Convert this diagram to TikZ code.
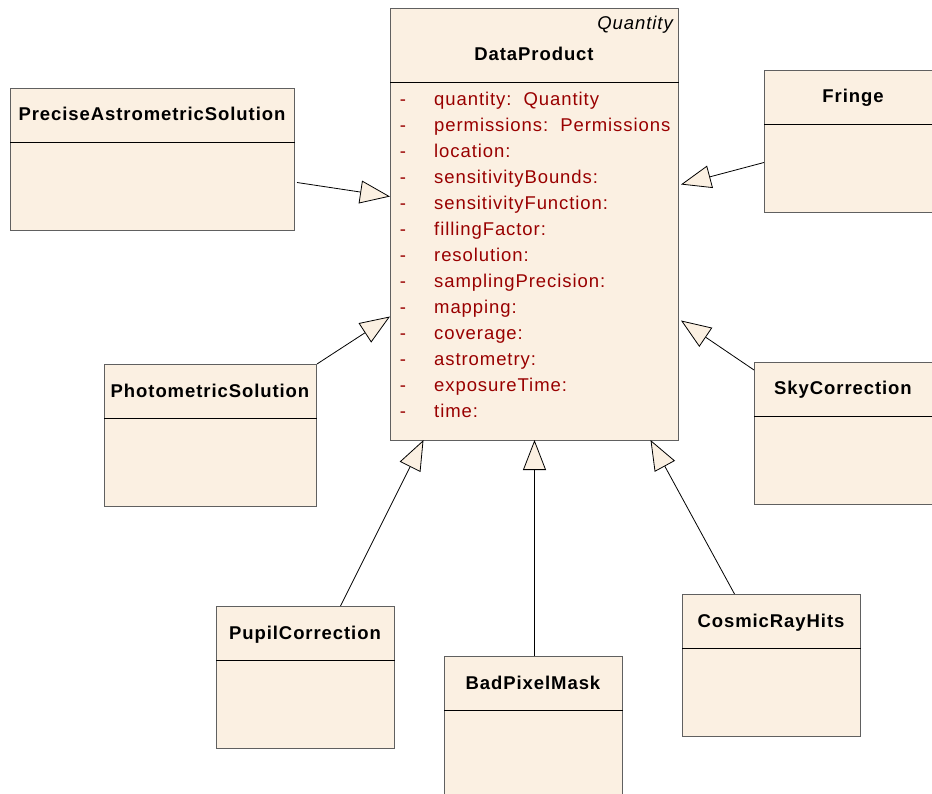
\documentclass[tikz,border=0pt]{standalone}
\usepackage{fontspec}
\setmainfont{Liberation Sans}[LetterSpace=5]
\usetikzlibrary{arrows.meta}
\definecolor{boxfill}{HTML}{FBF0E2}
\definecolor{attrred}{HTML}{990000}
\definecolor{boxline}{HTML}{606060}
\begin{document}
\begin{tikzpicture}[x=1pt,y=-1pt,
  cls/.style={draw=boxline, fill=boxfill, line width=1pt, anchor=north west, inner sep=0pt, minimum width=178pt, minimum height=142pt},
  ttl/.style={font=\fontsize{18.5}{20}\selectfont\bfseries, anchor=base, inner sep=0pt},
  stereo/.style={font=\fontsize{18.5}{20}\selectfont\itshape, anchor=base east, inner sep=0pt},
  attr/.style={font=\fontsize{18.5}{20}\selectfont, text=attrred, anchor=base west, inner sep=0pt},
  dashmark/.style={font=\fontsize{18.5}{20}\selectfont, text=attrred, anchor=base, inner sep=0pt},
  sepline/.style={draw=black, line width=0.9pt},
  gen/.style={draw=black, line width=0.8pt, -{Triangle[length=30pt,width=23pt,fill=boxfill]}}]
\clip (0,0) rectangle (932,794);
\useasboundingbox (0,0) rectangle (932,794);

% boxes
\node[cls, minimum width=288pt, minimum height=432pt] (dp) at (390,8) {};
\node[cls, minimum width=284pt] (pas) at (10,88) {};
\node[cls] (fringe) at (764,70) {};
\node[cls, minimum width=212pt] (photo) at (104,364) {};
\node[cls] (sky) at (754,362) {};
\node[cls] (pupil) at (216,606) {};
\node[cls] (bpm) at (444,656) {};
\node[cls] (cosmic) at (682,594) {};

% separators
\draw[sepline] (dp.west |- 0,82) -- (dp.east |- 0,82);
\draw[sepline] (pas.west |- 0,142) -- (pas.east |- 0,142);
\draw[sepline] (fringe.west |- 0,124) -- (fringe.east |- 0,124);
\draw[sepline] (photo.west |- 0,418) -- (photo.east |- 0,418);
\draw[sepline] (sky.west |- 0,416) -- (sky.east |- 0,416);
\draw[sepline] (pupil.west |- 0,660) -- (pupil.east |- 0,660);
\draw[sepline] (bpm.west |- 0,710) -- (bpm.east |- 0,710);
\draw[sepline] (cosmic.west |- 0,648) -- (cosmic.east |- 0,648);

% titles
\node[stereo] (dpS) at (673,30) {Quantity};
\node[ttl] (dpT) at (534,61) {DataProduct};
\node[ttl] (pasT) at (152,121) {PreciseAstrometricSolution};
\node[ttl] (fringeT) at (853,103) {Fringe};
\node[ttl] (photoT) at (210,397) {PhotometricSolution};
\node[ttl] (skyT) at (843,395) {SkyCorrection};
\node[ttl] (pupilT) at (305,639) {PupilCorrection};
\node[ttl] (bpmT) at (533,689) {BadPixelMask};
\node[ttl] (cosmicT) at (771,627) {CosmicRayHits};

% attributes
\foreach \t [count=\i from 0] in {quantity:\ \ Quantity, permissions:\ \ Permissions, location:, sensitivityBounds:, sensitivityFunction:, fillingFactor:, resolution:, samplingPrecision:, mapping:, coverage:, astrometry:, exposureTime:, time:}{
  \node[dashmark] (d\i) at (403,{105.5+26*\i}) {-};
  \node[attr] (a\i) at (434,{105.5+26*\i}) {\t};
}

% generalizations
\draw[gen] ([xshift=2pt,yshift=-23pt]pas.east) -- ([yshift=28pt]dp.west);
\draw[gen] ([yshift=-21pt]fringe.west) -- ([xshift=2pt,yshift=40pt]dp.east);
\draw[gen] (photo.north east) -- ([yshift=-92pt]dp.west);
\draw[gen] ([yshift=-8pt]sky.north west) -- ([xshift=2pt,yshift=-96pt]dp.east);
\draw[gen] ([xshift=35pt]pupil.north) -- ([xshift=-111pt,yshift=1pt]dp.south);
\draw[gen] ([xshift=1pt]bpm.north) -- ([xshift=0pt,yshift=1pt]dp.south);
\draw[gen] ([xshift=-37pt]cosmic.north) -- ([xshift=116pt,yshift=1pt]dp.south);
\end{tikzpicture}
\end{document}
